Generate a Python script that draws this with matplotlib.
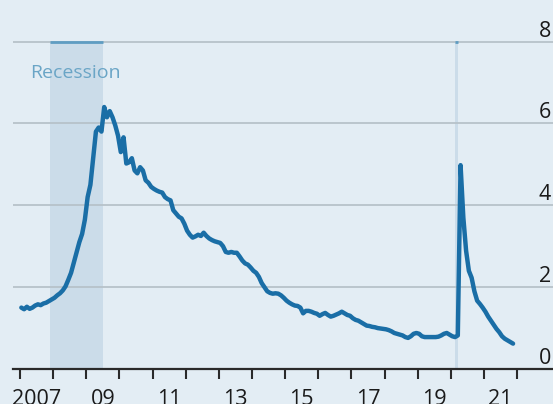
import matplotlib
matplotlib.use("Agg")
import matplotlib.pyplot as plt
import matplotlib.transforms as mtransforms
import numpy as np

# Monthly values, Jan 2007 .. Nov 2021
years = list(range(2007, 2022))
values = [
    # 2007
    1.50, 1.46, 1.52, 1.47, 1.50, 1.55, 1.58, 1.56, 1.60, 1.62, 1.66, 1.70,
    # 2008
    1.74, 1.80, 1.85, 1.92, 2.02, 2.18, 2.35, 2.60, 2.85, 3.10, 3.30, 3.65,
    # 2009
    4.20, 4.50, 5.15, 5.80, 5.90, 5.80, 6.40, 6.15, 6.30, 6.15, 5.95, 5.70,
    # 2010
    5.30, 5.66, 5.02, 5.05, 5.15, 4.85, 4.78, 4.93, 4.85, 4.61, 4.55, 4.45,
    # 2011
    4.40, 4.36, 4.33, 4.31, 4.20, 4.15, 4.12, 3.88, 3.80, 3.72, 3.68, 3.55,
    # 2012
    3.38, 3.28, 3.21, 3.24, 3.28, 3.25, 3.33, 3.25, 3.19, 3.15, 3.12, 3.10,
    # 2013
    3.08, 3.00, 2.86, 2.84, 2.86, 2.84, 2.84, 2.75, 2.65, 2.58, 2.55, 2.48,
    # 2014
    2.40, 2.35, 2.25, 2.10, 2.00, 1.90, 1.86, 1.84, 1.85, 1.84, 1.80, 1.74,
    # 2015
    1.67, 1.62, 1.58, 1.55, 1.54, 1.50, 1.36, 1.42, 1.42, 1.40, 1.37, 1.35,
    # 2016
    1.30, 1.34, 1.37, 1.32, 1.28, 1.30, 1.33, 1.36, 1.40, 1.36, 1.32, 1.30,
    # 2017
    1.24, 1.20, 1.18, 1.14, 1.10, 1.06, 1.05, 1.03, 1.02, 1.00, 0.99, 0.98,
    # 2018
    0.97, 0.95, 0.92, 0.88, 0.86, 0.84, 0.82, 0.78, 0.76, 0.80, 0.86, 0.88,
    # 2019
    0.86, 0.80, 0.78, 0.78, 0.78, 0.78, 0.78, 0.79, 0.82, 0.86, 0.88, 0.84,
    # 2020
    0.80, 0.78, 0.82, 4.98, 3.70, 2.89, 2.40, 2.23, 1.90, 1.67, 1.59, 1.50,
    # 2021
    1.40, 1.28, 1.18, 1.08, 0.98, 0.90, 0.80, 0.74, 0.70, 0.66, 0.62,
]

# NBER recessions (decimal years)
rec_start = [2007.917, 2020.12]
rec_end = [2009.5, 2020.22]

y_ticks = [0, 2, 4, 6, 8]
x_labels = ["2007", "09", "11", "13", "15", "17", "19", "21"]

BG = "#e3edf4"
LINE = "#1a6ea6"
SHADE = "#cbdce9"
GRID = "#b7c2c9"


def main():
    plt.rcParams["font.family"] = ["Open Sans", "DejaVu Sans"]

    fig = plt.figure(figsize=(5.53, 4.04), dpi=100, facecolor=BG)
    ax = fig.add_axes([13 / 553, 35 / 404, 540 / 553, 352 / 404], facecolor=BG)

    ymax = 8.6
    ax.set_xlim(2006.79, 2023.08)
    ax.set_ylim(0, ymax)

    # recession bands, with a darker cap on the top gridline
    for s, e in zip(rec_start, rec_end):
        ax.fill_between([s, e], 0, 8, color=SHADE, lw=0, zorder=1)
        ax.plot([s, e], [8, 8], color="#5f9dc2", lw=2, solid_capstyle="butt", zorder=3)

    for t in y_ticks[1:]:
        ax.axhline(t, color=GRID, lw=1.3, zorder=2)

    x = np.array([yr + (m + 0.5) / 12 for yr in years for m in range(12)])[: len(values)]
    ax.plot(x, values, color=LINE, lw=3.2, solid_joinstyle="round",
            solid_capstyle="round", zorder=4)

    ax.text(2007.3, 7.1, "Recession", color="#6aa5c6", fontsize=14,
            ha="left", va="baseline", zorder=5)

    for side in ["top", "left", "right"]:
        ax.spines[side].set_visible(False)
    ax.spines["bottom"].set_color("#2a2a2a")
    ax.spines["bottom"].set_linewidth(1.6)
    ax.spines["bottom"].set_zorder(6)

    # year boundaries get tick marks, labels sit mid-year
    ax.set_xticks(np.arange(2007, 2023))
    ax.set_xticklabels([])
    ax.tick_params(axis="x", which="major", length=7, width=1.5, color="#2a2a2a")
    ax.set_xticks([int("20" + s[-2:]) + 0.5 for s in x_labels], minor=True)
    ax.set_xticklabels(x_labels, minor=True)
    ax.tick_params(axis="x", which="minor", length=0, pad=14.5, labelsize=15.5,
                   labelcolor="#1a1a1a")

    ax.set_yticks(y_ticks)
    ax.set_yticklabels([str(t) for t in y_ticks])
    ax.yaxis.tick_right()
    ax.tick_params(axis="y", length=0, pad=-1.5, labelsize=15.5, labelcolor="#1a1a1a")
    offset = mtransforms.ScaledTranslation(0, 0, fig.dpi_scale_trans)
    for lab in ax.get_yticklabels():
        lab.set_horizontalalignment("right")
        lab.set_verticalalignment("bottom")
        lab.set_transform(lab.get_transform() + offset)

    fig.savefig("out.png", dpi=100, facecolor=BG)


if __name__ == "__main__":
    main()
